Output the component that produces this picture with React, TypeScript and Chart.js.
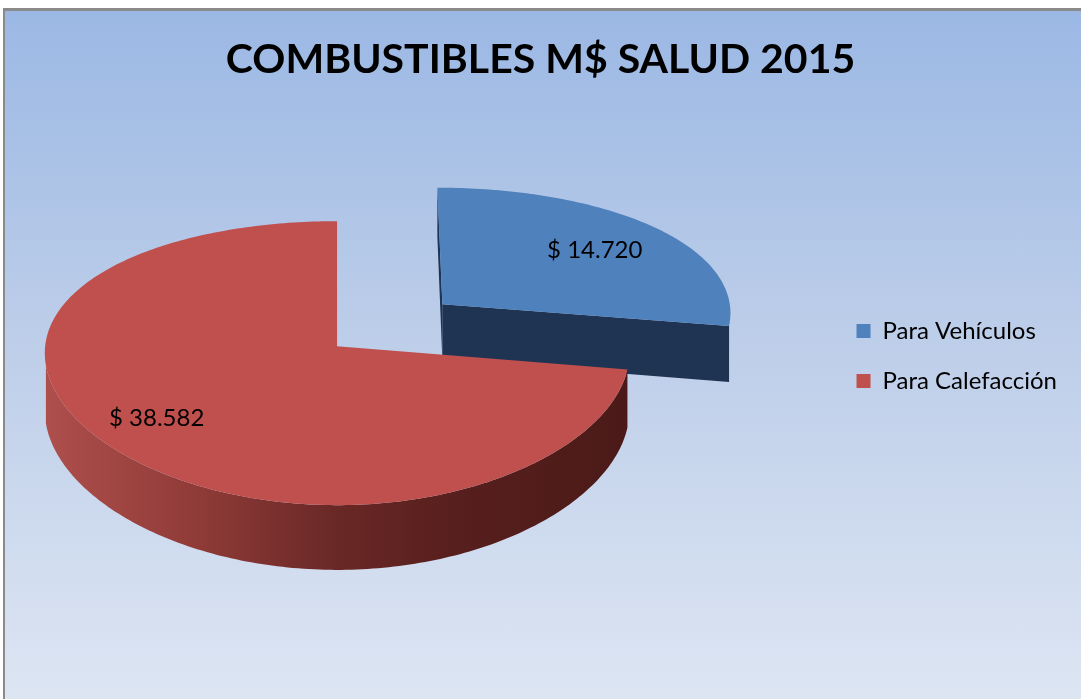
import React, { useEffect, useRef } from "react";
import { Chart, registerables } from "chart.js";

Chart.register(...registerables);

// ---- data ----
const categories = ["Para Vehículos", "Para Calefacción"];
const values = [14720, 38582];
const sliceColors = ["#4f81bd", "#c0504d"];
const chartTitle = "COMBUSTIBLES M$ SALUD 2015";

// ---- style ----
const FONT = "Lato, 'Open Sans', sans-serif";
const PIE3D = {
  dx: -0.2845, // projected centre shift, in units of the library radius
  dy: -0.1786,
  kx: 0.975, // horizontal semi-axis / radius
  ky: 0.4674, // vertical semi-axis / radius
  kd: 0.1903, // depth / radius
  persp: 0.12, // vertical perspective
  perspX: 0.05, // horizontal perspective
  explode: [0.48, 0],
  labelRadius: [0.7, 0.773],
  labelFrac: [0.52, 0.506],
  radialWall: ["#1f3452", "#8a3431"],
  outerWall: [
    [[0, "#2b4a73"], [1, "#1d3150"]],
    [[0, "#ae4f4c"], [0.27, "#8e3a37"], [0.5, "#692826"], [0.7, "#571f1d"], [1, "#4b1a18"]],
  ] as [number, string][][],
};

const fmt = (n: number) => n.toString().replace(/\B(?=(\d{3})+(?!\d))/g, ".");

const pie3dPlugin = {
  id: "pie3d",
  beforeDatasetsDraw(chart: any) {
    const meta = chart.getDatasetMeta(0);
    const arcs = meta.data;
    if (!arcs.length) return false;
    const ref = arcs[0].getProps(["x", "y", "outerRadius"], true);
    const R = ref.outerRadius;
    const cx = ref.x + R * PIE3D.dx;
    const cy = ref.y + R * PIE3D.dy;
    const rx = R * PIE3D.kx;
    const ry = R * PIE3D.ky;
    const depth = R * PIE3D.kd;
    const p = PIE3D.persp;
    const px = PIE3D.perspX;
    const P = (u: number, v: number, z: number): [number, number] => {
      const s = 1 / (1 - p * v);
      const sx = 1 / (1 - px * v);
      return [cx + rx * u * sx, cy + ry * v * s + z * depth * s];
    };
    const E = [0, 1 / p];
    const ctx: CanvasRenderingContext2D = chart.ctx;

    const slices = arcs.map((arc: any, i: number) => {
      const { startAngle, endAngle } = arc.getProps(["startAngle", "endAngle"], true);
      const am = (startAngle + endAngle) / 2;
      const ex = PIE3D.explode[i] || 0;
      const o = [ex * Math.cos(am), ex * Math.sin(am)];
      return { i, a0: startAngle, a1: endAngle, am, o, key: o[1] + 0.5 * Math.sin(am) };
    });
    const order = [...slices].sort((a: any, b: any) => a.key - b.key);

    ctx.save();
    for (const sl of order) {
      const { i, a0, a1, o } = sl;
      const steps = Math.max(8, Math.ceil(((a1 - a0) * 180) / Math.PI));
      const angs: number[] = [];
      for (let k = 0; k <= steps; k++) angs.push(a0 + ((a1 - a0) * k) / steps);

      // radial walls
      const walls = [
        { a: a0, n: [Math.sin(a0), -Math.cos(a0)] },
        { a: a1, n: [-Math.sin(a1), Math.cos(a1)] },
      ];
      for (const w of walls) {
        const e = [Math.cos(w.a), Math.sin(w.a)];
        const M = [o[0] + 0.5 * e[0], o[1] + 0.5 * e[1]];
        const vis = w.n[0] * (E[0] - M[0]) + w.n[1] * (E[1] - M[1]);
        if (vis > 0.01) {
          const q = [
            P(o[0], o[1], 0),
            P(o[0] + e[0], o[1] + e[1], 0),
            P(o[0] + e[0], o[1] + e[1], 1),
            P(o[0], o[1], 1),
          ];
          ctx.beginPath();
          ctx.moveTo(q[0][0], q[0][1]);
          for (let k = 1; k < 4; k++) ctx.lineTo(q[k][0], q[k][1]);
          ctx.closePath();
          ctx.fillStyle = PIE3D.radialWall[i];
          ctx.fill();
        }
      }

      // outer curved wall
      const visAngs = angs.filter(
        (a) => Math.cos(a) * (E[0] - o[0]) + Math.sin(a) * (E[1] - o[1]) > 1
      );
      if (visAngs.length > 1) {
        const left = P(-1, 0, 0)[0];
        const right = P(1, 0, 0)[0];
        const g = ctx.createLinearGradient(left, 0, right, 0);
        for (const [s, c] of PIE3D.outerWall[i]) g.addColorStop(s, c);
        ctx.beginPath();
        visAngs.forEach((a, k) => {
          const pt = P(o[0] + Math.cos(a), o[1] + Math.sin(a), 0);
          if (k === 0) ctx.moveTo(pt[0], pt[1]);
          else ctx.lineTo(pt[0], pt[1]);
        });
        for (let k = visAngs.length - 1; k >= 0; k--) {
          const a = visAngs[k];
          const pt = P(o[0] + Math.cos(a), o[1] + Math.sin(a), 1);
          ctx.lineTo(pt[0], pt[1]);
        }
        ctx.closePath();
        ctx.fillStyle = g;
        ctx.fill();
      }

      // top face
      ctx.beginPath();
      const c0 = P(o[0], o[1], 0);
      ctx.moveTo(c0[0], c0[1]);
      for (const a of angs) {
        const pt = P(o[0] + Math.cos(a), o[1] + Math.sin(a), 0);
        ctx.lineTo(pt[0], pt[1]);
      }
      ctx.closePath();
      ctx.fillStyle = sliceColors[i];
      ctx.fill();
    }

    // data labels
    ctx.fillStyle = "#000";
    ctx.font = `24px ${FONT}`;
    ctx.textAlign = "center";
    ctx.textBaseline = "middle";
    for (const sl of slices) {
      const lr = PIE3D.labelRadius[sl.i];
      const la = sl.a0 + (sl.a1 - sl.a0) * PIE3D.labelFrac[sl.i];
      const pt = P(sl.o[0] + lr * Math.cos(la), sl.o[1] + lr * Math.sin(la), 0);
      ctx.fillText("$ " + fmt(values[sl.i]), pt[0], pt[1]);
    }
    ctx.restore();
    return false;
  },
};

export default function App() {
  const ref = useRef<HTMLCanvasElement>(null);
  useEffect(() => {
    document.body.style.margin = "0";
    const chart = new Chart(ref.current as HTMLCanvasElement, {
      type: "pie",
      data: {
        labels: categories,
        datasets: [{ data: values, backgroundColor: sliceColors, borderWidth: 0 }],
      },
      options: {
        responsive: false,
        animation: false,
        layout: { padding: { left: 14, right: 14, top: 13, bottom: 0 } },
        plugins: {
          title: {
            display: true,
            text: chartTitle,
            color: "#000",
            font: { family: FONT, size: 41, weight: "bold", lineHeight: 1.2 },
            padding: { top: 22, bottom: 16 },
          },
          legend: {
            position: "right",
            labels: {
              color: "#000",
              font: { family: FONT, size: 24 },
              boxWidth: 14,
              boxHeight: 14,
              padding: 26,
            },
          },
          tooltip: { enabled: false },
        },
      } as any,
      plugins: [pie3dPlugin as any],
    });
    return () => chart.destroy();
  }, []);

  return (
    <div
      style={{
        position: "fixed",
        left: 0,
        top: 0,
        width: 1081,
        height: 699,
        overflow: "hidden",
        background: "#ffffff",
      }}
    >
      <div
        style={{
          position: "absolute",
          left: 3,
          top: 8,
          width: 1100,
          height: 700,
          borderLeft: "2px solid #8a8a8a",
          borderTop: "3px solid #8a8a8a",
          background: "linear-gradient(180deg, #9bb8e4 0%, #bccde9 45%, #dee6f3 100%)",
        }}
      />
      <canvas
        ref={ref}
        width={1081}
        height={699}
        style={{ position: "absolute", left: 0, top: 0, width: 1081, height: 699 }}
      />
    </div>
  );
}
